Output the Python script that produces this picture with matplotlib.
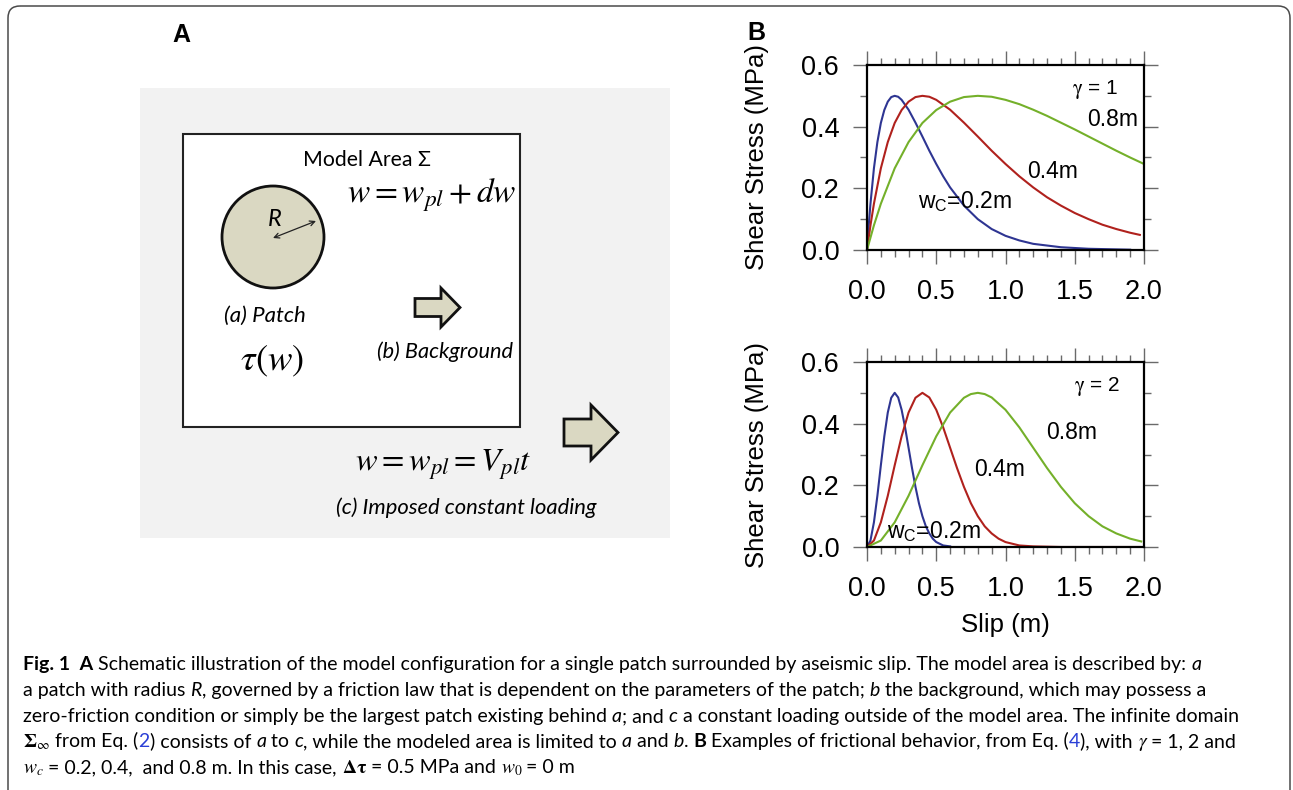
import matplotlib
matplotlib.use("Agg")
import matplotlib.pyplot as plt
from matplotlib.patches import Rectangle, Circle, Polygon, FancyBboxPatch
from matplotlib.ticker import MultipleLocator, FormatStrFormatter

plt.rcParams["font.family"] = ["Liberation Sans", "DejaVu Sans"]
plt.rcParams["mathtext.fontset"] = "stix"

# ---------------------------------------------------------------- data
# gamma = 1
slip_g1_w02 = [0, 0.0125, 0.025, 0.05, 0.075, 0.1, 0.125, 0.15, 0.175, 0.2, 0.225, 0.25,
               0.3, 0.35, 0.4, 0.45, 0.5, 0.55, 0.6, 0.7, 0.8, 0.9, 1.0, 1.1, 1.2,
               1.4, 1.6, 1.8, 1.9]
stress_g1_w02 = [0, 0.080, 0.150, 0.265, 0.350, 0.412, 0.454, 0.481, 0.496, 0.500, 0.497, 0.487,
                 0.455, 0.413, 0.368, 0.322, 0.279, 0.239, 0.203, 0.144, 0.100, 0.068, 0.046,
                 0.031, 0.020, 0.009, 0.004, 0.002, 0.001]

slip_g1_w04 = [0, 0.025, 0.05, 0.1, 0.15, 0.2, 0.25, 0.3, 0.35, 0.4, 0.45, 0.5, 0.6, 0.7,
               0.8, 0.9, 1.0, 1.1, 1.2, 1.3, 1.4, 1.5, 1.6, 1.7, 1.8, 1.9, 1.97]
stress_g1_w04 = [0, 0.080, 0.150, 0.265, 0.350, 0.412, 0.454, 0.481, 0.496, 0.500, 0.497, 0.487,
                 0.455, 0.413, 0.368, 0.322, 0.279, 0.239, 0.203, 0.171, 0.144, 0.120, 0.100,
                 0.082, 0.068, 0.056, 0.049]

slip_g1_w08 = [0, 0.05, 0.1, 0.2, 0.3, 0.4, 0.5, 0.6, 0.7, 0.8, 0.9, 1.0, 1.1, 1.2, 1.3,
               1.4, 1.5, 1.6, 1.7, 1.8, 1.9, 2.0]
stress_g1_w08 = [0, 0.080, 0.150, 0.265, 0.350, 0.412, 0.454, 0.481, 0.496, 0.500, 0.497, 0.487,
                 0.473, 0.455, 0.435, 0.413, 0.391, 0.368, 0.345, 0.322, 0.300, 0.279]

# gamma = 2
slip_g2_w02 = [0, 0.025, 0.05, 0.075, 0.1, 0.125, 0.15, 0.175, 0.2, 0.225, 0.25, 0.275, 0.3,
               0.325, 0.35, 0.375, 0.4, 0.425, 0.45, 0.475, 0.5, 0.55, 0.6]
stress_g2_w02 = [0, 0.021, 0.080, 0.166, 0.265, 0.359, 0.436, 0.484, 0.500, 0.485, 0.445, 0.388,
                 0.322, 0.256, 0.195, 0.142, 0.100, 0.067, 0.044, 0.027, 0.016, 0.005, 0.002]

slip_g2_w04 = [0, 0.05, 0.1, 0.15, 0.2, 0.25, 0.3, 0.35, 0.4, 0.45, 0.5, 0.55, 0.6, 0.65,
               0.7, 0.75, 0.8, 0.85, 0.9, 0.95, 1.0, 1.1, 1.2, 1.4, 1.97]
stress_g2_w04 = [0, 0.021, 0.080, 0.166, 0.265, 0.359, 0.436, 0.484, 0.500, 0.485, 0.445, 0.388,
                 0.322, 0.256, 0.195, 0.142, 0.100, 0.067, 0.044, 0.027, 0.016, 0.005, 0.002,
                 0.0, 0.0]

slip_g2_w08 = [0, 0.1, 0.2, 0.3, 0.4, 0.5, 0.6, 0.7, 0.75, 0.8, 0.85, 0.9, 1.0, 1.1, 1.2,
               1.3, 1.4, 1.5, 1.6, 1.7, 1.8, 1.9, 1.98]
stress_g2_w08 = [0, 0.021, 0.080, 0.166, 0.265, 0.359, 0.436, 0.484, 0.496, 0.500, 0.496, 0.485,
                 0.445, 0.388, 0.322, 0.256, 0.195, 0.142, 0.100, 0.067, 0.044, 0.027, 0.018]

curve_colors = {"w02": "#2e3592", "w04": "#b0211d", "w08": "#74b02a"}

# ---------------------------------------------------------------- figure
W, H = 1293, 790
fig = plt.figure(figsize=(W / 100, H / 100), dpi=100)
fig.patch.set_facecolor("white")

# full-figure canvas in pixel units (y downwards)
cv = fig.add_axes([0, 0, 1, 1])
cv.set_xlim(0, W)
cv.set_ylim(H, 0)
cv.axis("off")

# rounded outer frame
cv.add_patch(FancyBboxPatch((8, 6), 1282, 800, boxstyle="round,pad=0,rounding_size=12",
                            fc="none", ec="#4a4a4a", lw=1.1))

# ---------------------------------------------------------------- panel A
SANS_A = ["Lato", "DejaVu Sans"]
BEIGE = "#dad8c2"
cv.text(181, 35, "A", fontsize=18, fontweight="bold", ha="center", va="center")
cv.add_patch(Rectangle((140, 88), 530, 450, fc="#f2f2f2", ec="none"))
cv.add_patch(Rectangle((183, 134), 337, 293, fc="white", ec="#222222", lw=1.5))
cv.add_patch(Circle((273, 237), 51, fc=BEIGE, ec="#111111", lw=2))
cv.annotate("", xy=(316, 221), xytext=(273, 238),
            arrowprops=dict(arrowstyle="<->", lw=0.9, color="#222222",
                            mutation_scale=9, shrinkA=0, shrinkB=0))
cv.text(275, 219, "R", fontsize=17, style="italic", family=SANS_A, ha="center", va="center")

cv.text(367, 160, "Model Area \u03a3", fontsize=15.3, family=SANS_A, ha="center", va="center")
cv.text(432, 195, r"$w = w_{pl} + dw$", fontsize=24, ha="center", va="center")
cv.text(265, 316, "(a) Patch", fontsize=16, style="italic", family=SANS_A, ha="center", va="center")
cv.text(272, 361, r"$\tau(w)$", fontsize=26.5, ha="center", va="center")
cv.text(445, 352, "(b) Background", fontsize=15.7, style="italic", family=SANS_A,
        ha="center", va="center")
cv.text(443, 465, r"$w = w_{pl} = V_{pl}t$", fontsize=23.4, ha="center", va="center")
cv.text(466, 508, "(c) Imposed constant loading", fontsize=15.8, style="italic", family=SANS_A,
        ha="center", va="center")


def block_arrow(x0, xh, xt, yc, half_shaft, half_head):
    pts = [(x0, yc - half_shaft), (xh, yc - half_shaft), (xh, yc - half_head), (xt, yc),
           (xh, yc + half_head), (xh, yc + half_shaft), (x0, yc + half_shaft)]
    cv.add_patch(Polygon(pts, closed=True, fc=BEIGE, ec="#111111", lw=2, joinstyle="miter"))


block_arrow(415, 441, 460, 307.5, 9, 19.5)
block_arrow(564, 591, 618, 432.5, 13.5, 27.5)

# ---------------------------------------------------------------- panel B
cv.text(756, 33, "B", fontsize=18, fontweight="bold", ha="center", va="center")


def add_panel(top_px, bottom_px):
    ax = fig.add_axes([867 / W, 1 - bottom_px / H, 277 / W, (bottom_px - top_px) / H])
    ax.set_xlim(0, 2)
    ax.set_ylim(0, 0.6)
    ax.xaxis.set_major_locator(MultipleLocator(0.5))
    ax.xaxis.set_minor_locator(MultipleLocator(0.1))
    ax.yaxis.set_major_locator(MultipleLocator(0.2))
    ax.yaxis.set_minor_locator(MultipleLocator(0.1))
    ax.xaxis.set_major_formatter(FormatStrFormatter("%.1f"))
    ax.yaxis.set_major_formatter(FormatStrFormatter("%.1f"))
    ax.tick_params(which="both", direction="out", top=True, right=True,
                   color="#6a6a6a", width=1.0, labelsize=19.5)
    ax.tick_params(which="major", length=10)
    ax.tick_params(which="minor", length=5)
    ax.tick_params(axis="y", pad=10)
    ax.tick_params(axis="x", pad=11)
    for s in ax.spines.values():
        s.set_linewidth(1.6)
        s.set_color("black")
    ax.set_ylabel("Shear Stress (MPa)", fontsize=18.5, va="center")
    ax.yaxis.set_label_coords(-0.397, 0.5)
    return ax


GAMMA_KW = dict(fontsize=15, ha="center", va="center", math_fontfamily="stix")

ax1 = add_panel(65, 250)
ax1.plot(slip_g1_w02, stress_g1_w02, color=curve_colors["w02"], lw=1.5)
ax1.plot(slip_g1_w04, stress_g1_w04, color=curve_colors["w04"], lw=1.5)
ax1.plot(slip_g1_w08, stress_g1_w08, color=curve_colors["w08"], lw=1.5)
ax1.text(1.646, 0.519, r"$\mathrm{\gamma}$ = 1", **GAMMA_KW)
ax1.text(1.776, 0.422, "0.8m", fontsize=16.5, ha="center", va="center")
ax1.text(1.343, 0.253, "0.4m", fontsize=16.5, ha="center", va="center")
ax1.text(0.708, 0.156, r"$\mathregular{w_C}$=0.2m", fontsize=16.5, ha="center", va="center")

ax2 = add_panel(362, 547)
ax2.plot(slip_g2_w02, stress_g2_w02, color=curve_colors["w02"], lw=1.5)
ax2.plot(slip_g2_w04, stress_g2_w04, color=curve_colors["w04"], lw=1.5)
ax2.plot(slip_g2_w08, stress_g2_w08, color=curve_colors["w08"], lw=1.5)
ax2.text(1.661, 0.519, r"$\mathrm{\gamma}$ = 2", **GAMMA_KW)
ax2.text(1.480, 0.370, "0.8m", fontsize=16.5, ha="center", va="center")
ax2.text(0.960, 0.250, "0.4m", fontsize=16.5, ha="center", va="center")
ax2.text(0.484, 0.049, r"$\mathregular{w_C}$=0.2m", fontsize=16.5, ha="center", va="center")
ax2.set_xlabel("Slip (m)", fontsize=18.5, va="center")
ax2.xaxis.set_label_coords(0.5, -0.42)

# ---------------------------------------------------------------- caption
CAP = ["Lato", "DejaVu Sans"]
CAP_SIZE = 14.0
LINK = "#2a3fd6"
N = dict(family=CAP)
I = dict(family=CAP, style="italic")
B = dict(family=CAP, fontweight="bold")
M = dict(family=CAP, math_fontfamily="stix")
L = dict(family=CAP, color=LINK)

caption_lines = [
    [("Fig. 1  A", B),
     (" Schematic illustration of the model configuration for a single patch surrounded by "
      "aseismic slip. The model area is described by: ", N),
     ("a", I)],
    [("a patch with radius ", N), ("R", I),
     (", governed by a friction law that is dependent on the parameters of the patch; ", N),
     ("b", I), (" the background, which may possess a", N)],
    [("zero-friction condition or simply be the largest patch existing behind ", N), ("a", I),
     ("; and ", N), ("c", I),
     (" a constant loading outside of the model area. The infinite domain", N)],
    [(r"$\mathbf{\Sigma}_{\infty}$", M), (" from Eq. (", N), ("2", L), (") consists of ", N),
     ("a", I), (" to ", N), ("c", I), (", while the modeled area is limited to ", N),
     ("a", I), (" and ", N), ("b", I), (". ", N), ("B", B),
     (" Examples of frictional behavior, from Eq. (", N), ("4", L), ("), with ", N),
     (r"$\gamma$", M), (" = 1, 2 and", N)],
    [(r"$w_c$", M), (" = 0.2, 0.4,  and 0.8 m. In this case, ", N),
     (r"$\mathbf{\Delta\tau}$", M), (" = 0.5 MPa and ", N), (r"$w_0$", M), (" = 0 m", N)],
]
caption_baselines = [670, 696, 722, 747, 773]

renderer = fig.canvas.get_renderer()


def advance(s, kw):
    a = cv.text(0, 0, s + "|", fontsize=CAP_SIZE, **kw)
    b = cv.text(0, 0, "|", fontsize=CAP_SIZE, **kw)
    w = a.get_window_extent(renderer).width - b.get_window_extent(renderer).width
    a.remove()
    b.remove()
    return w


for parts, yb in zip(caption_lines, caption_baselines):
    x = 23
    for s, kw in parts:
        cv.text(x, yb, s, fontsize=CAP_SIZE, ha="left", va="baseline", **kw)
        x += advance(s, kw)

fig.savefig("out.png", dpi=100)
